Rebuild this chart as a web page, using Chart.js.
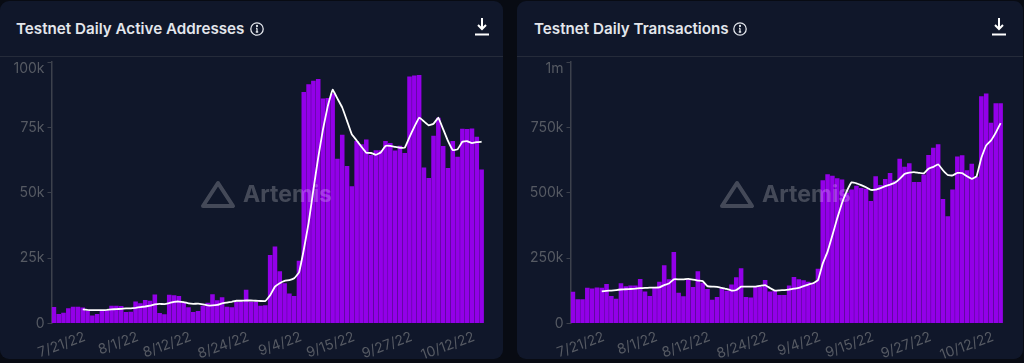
<!DOCTYPE html>
<html>
<head>
<meta charset="utf-8">
<script src="https://cdn.jsdelivr.net/npm/chart.js@4"></script>
<style>
  html, body { margin: 0; padding: 0; background: #080b13; width: 1024px; height: 363px; overflow: hidden; font-family: Inter, sans-serif; }
  .panel { position: absolute; top: 1px; height: 358px; background: #10172a; border-radius: 9px; overflow: hidden; }
  .head { position: absolute; left: 0; right: 0; top: 0; height: 55px; border-bottom: 1px solid #252b3a; }
  .title { position: absolute; top: 19px; font-size: 15.2px; line-height: 18px; font-weight: 600; color: #e3e6ec; white-space: nowrap; }
  .head svg { position: absolute; }
  .chartbox { position: absolute; left: 0; right: 0; top: 55px; bottom: 0; }
  .mark { position: absolute; top: 178px; width: 140px; height: 32px; opacity: .22; pointer-events: none; }
  .mark span { position: absolute; left: 43px; top: 0; font-size: 23px; line-height: 30px; font-weight: 700; color: #fff; }
  .mark svg { position: absolute; left: 0; top: 1px; }
</style>
</head>
<body>

<div class="panel" style="left:0;width:503px">
  <div class="head">
    <div class="title" style="left:16px">Testnet Daily Active Addresses</div>
    <svg style="left:250px;top:21px" width="14" height="14" viewBox="0 0 14 14" fill="none" stroke="#e3e6ec" stroke-width="1.3"><circle cx="7" cy="7" r="6.2"/><path d="M7 6.3v3.6M5.8 10h2.4M6 6.3h1"/><circle cx="7" cy="4" r=".5"/></svg>
    <svg style="left:474px;top:17px" width="16" height="18" viewBox="0 0 16 18" fill="none" stroke="#fff" stroke-width="2"><path d="M8 0v10M4 7l4 4 4-4"/><path d="M1 16.5h14"/></svg>
  </div>
  <div class="chartbox"><canvas id="addressChart"></canvas></div>
  <div class="mark" style="left:200px"><svg width="36" height="30" viewBox="0 0 36 30" fill="none" stroke="#fff" stroke-width="4" stroke-linejoin="round"><path d="M18 3L33 26H3Z"/></svg><span>Artemis</span></div>
</div>

<div class="panel" style="left:517px;width:506px">
  <div class="head">
    <div class="title" style="left:17px">Testnet Daily Transactions</div>
    <svg style="left:216px;top:21px" width="14" height="14" viewBox="0 0 14 14" fill="none" stroke="#e3e6ec" stroke-width="1.3"><circle cx="7" cy="7" r="6.2"/><path d="M7 6.3v3.6M5.8 10h2.4M6 6.3h1"/><circle cx="7" cy="4" r=".5"/></svg>
    <svg style="left:474px;top:17px" width="16" height="18" viewBox="0 0 16 18" fill="none" stroke="#fff" stroke-width="2"><path d="M8 0v10M4 7l4 4 4-4"/><path d="M1 16.5h14"/></svg>
  </div>
  <div class="chartbox"><canvas id="txChart"></canvas></div>
  <div class="mark" style="left:202px"><svg width="36" height="30" viewBox="0 0 36 30" fill="none" stroke="#fff" stroke-width="4" stroke-linejoin="round"><path d="M18 3L33 26H3Z"/></svg><span>Artemis</span></div>
</div>

<script>
//days on the x axis, a couple of days are missing in october
const days = ['7/21/22','7/22/22','7/23/22','7/24/22','7/25/22','7/26/22','7/27/22','7/28/22','7/29/22','7/30/22',
  '7/31/22','8/1/22','8/2/22','8/3/22','8/4/22','8/5/22','8/6/22','8/7/22','8/8/22','8/9/22',
  '8/10/22','8/11/22','8/12/22','8/13/22','8/14/22','8/15/22','8/16/22','8/17/22','8/18/22','8/19/22',
  '8/20/22','8/21/22','8/22/22','8/23/22','8/24/22','8/25/22','8/26/22','8/27/22','8/28/22','8/29/22',
  '8/30/22','8/31/22','9/1/22','9/2/22','9/3/22','9/4/22','9/5/22','9/6/22','9/7/22','9/8/22',
  '9/9/22','9/10/22','9/11/22','9/12/22','9/13/22','9/14/22','9/15/22','9/16/22','9/17/22','9/18/22',
  '9/19/22','9/20/22','9/21/22','9/22/22','9/23/22','9/24/22','9/25/22','9/26/22','9/27/22','9/28/22',
  '9/29/22','9/30/22','10/1/22','10/2/22','10/3/22','10/4/22','10/6/22','10/7/22','10/8/22','10/10/22',
  '10/11/22','10/12/22','10/13/22','10/14/22','10/15/22','10/16/22','10/17/22','10/18/22','10/19/22','10/20/22'];
const xTickLabels = ['7/21/22','8/1/22','8/12/22','8/24/22','9/4/22','9/15/22','9/27/22','10/12/22'];

//values are in thousands
const addressBars = [6.3,3.6,4.1,5.8,6.4,6.4,6.1,4.9,3.1,3.6,
  5.1,5.1,6.8,6.8,6.7,4.4,4.5,8.4,7.7,9,
  8.7,11.1,4,3.5,11,10.8,10.5,8,6.2,4.4,
  4.8,6.8,7.9,11.2,8.9,10,6.4,6.2,8.3,8.3,
  12.9,8.3,8.3,6.8,7,26.2,29.4,20,15.4,11.5,
  10.5,24,88.5,91.5,92.8,93.5,86,86.2,88,63,
  72.2,60.2,52.5,69.8,68.5,70.4,64.4,66.3,66.3,69.8,
  69,66.2,68,65.2,94.5,94.8,95,59.7,55.6,71.8,
  78.7,67.9,59.5,69.8,63.8,74.5,74.4,74.6,71.4,58.9];
const addressAvg = [null,null,null,null,null,null,5.4,5.2,5.1,5.1,
  5.1,5.2,5.4,5.5,5.6,5.8,5.8,6,6.3,6.5,
  6.8,7.3,7.5,7.4,7.8,8.3,8.4,8.2,7.7,7.5,
  7.6,7.3,6.9,6.9,7.1,7.7,8,8.3,8.7,8.7,
  8.8,8.8,8.7,8.6,8.6,10.8,14.1,15.4,16.3,16.6,
  17.3,19.5,28.2,38.4,51.2,63.4,74.3,83.2,89.4,86,
  82.6,77.5,72.3,70,67.6,65.3,65.2,64.5,65.4,67.9,
  67.9,67.5,67.2,67.2,71.3,75.2,78.7,77.3,75.8,76.4,
  78.7,74.3,69.8,66.3,66.6,69.5,69.7,69,69.4,69.5];
const addressTicks = ['0','25k','50k','75k','100k'];

const txBars = [121,93,93,137,134,138,137,151,105,95,
  154,142,145,145,170,122,105,138,160,223,
  169,273,118,104,169,140,200,156,132,91,
  101,135,125,149,177,211,101,99,140,141,
  166,122,125,109,109,145,178,169,165,160,
  156,209,548,571,565,555,551,500,512,527,
  518,515,468,563,530,553,576,547,630,599,
  613,541,541,570,644,672,685,476,410,512,
  639,643,586,611,561,869,880,768,842,842];
const txAvg = [null,null,null,null,null,null,123,125,126,128,
  130,131,132,133,135,136,137,137,138,147,
  153,169,169,169,171,168,164,162,143,141,
  140,136,132,126,128,141,141,141,141,144,
  147,136,126,127,128,130,133,136,143,149,
  154,166,230,275,337,402,461,506,540,536,
  529,521,511,512,518,525,531,538,553,572,
  577,579,576,574,592,599,609,586,568,566,
  576,575,563,553,563,634,681,700,730,766];
const txTicks = ['0','250k','500k','750k','1m'];

const tickColor = '#565a63';
const axisColor = '#3c414c';

function makeChart(id, bars, avg, yLabels, yMax, axisWidth, rightPad) {
  const ctx = document.getElementById(id).getContext('2d');
  new Chart(ctx, {
    data: {
      labels: days,
      datasets: [
        { type: 'line', data: avg, borderColor: '#ffffff', borderWidth: 1.8, pointRadius: 0, tension: 0.08, order: 0 },
        { type: 'bar', data: bars, backgroundColor: '#9300e8', barPercentage: 0.95, categoryPercentage: 1, order: 1 }
      ]
    },
    options: {
      responsive: true,
      maintainAspectRatio: false,
      animation: false,
      layout: { padding: { top: 6, right: rightPad, left: 0, bottom: 0 } },
      plugins: { legend: { display: false }, tooltip: { enabled: false } },
      scales: {
        x: {
          grid: { display: false },
          border: { display: false },
          afterFit: (scale) => { scale.height = 35.5; scale.paddingLeft = 0; scale.paddingRight = 0; },
          ticks: {
            autoSkip: false,
            maxRotation: 20,
            minRotation: 20,
            labelOffset: 31,
            padding: -3,
            color: tickColor,
            font: { family: 'Inter', size: 14 },
            callback: function(value) {
              const label = this.getLabelForValue(value);
              return xTickLabels.includes(label) ? label : '';
            }
          }
        },
        y: {
          min: 0,
          max: yMax,
          ticks: {
            stepSize: yMax / (yLabels.length - 1),
            padding: 3,
            color: tickColor,
            font: { family: 'Inter', size: 14, lineHeight: 1 },
            //top label sits a bit under its tick in the original
            callback: function(value, i) {
              return i === yLabels.length - 1 ? ['', yLabels[i]] : yLabels[i];
            }
          },
          grid: { drawOnChartArea: false, color: axisColor, tickLength: 4 },
          border: { color: axisColor, width: 1.5 },
          afterFit: (scale) => { scale.width = axisWidth; scale.paddingTop = 0; scale.paddingBottom = 0; }
        }
      }
    }
  });
}

makeChart('addressChart', addressBars, addressAvg, addressTicks, 100, 51.5, 19);
makeChart('txChart', txBars, txAvg, txTicks, 1000, 53.5, 20);
</script>
</body>
</html>
